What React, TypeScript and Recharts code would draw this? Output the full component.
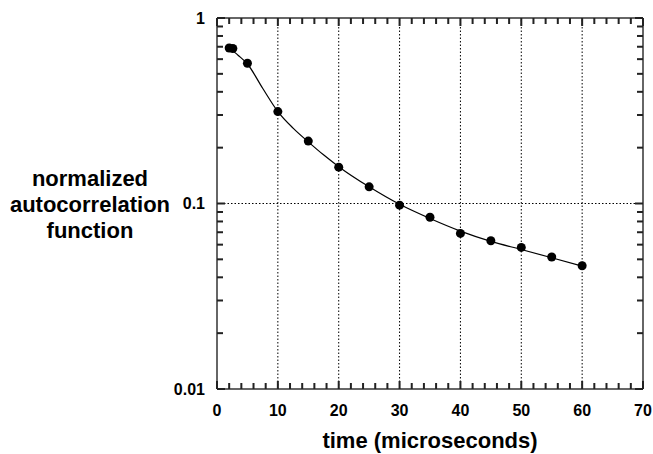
import { ComposedChart, Line, Scatter, XAxis, YAxis, ReferenceLine } from "recharts";

// measured points (time in microseconds, normalized autocorrelation)
const pointTimes = [2, 2.6, 5, 10, 15, 20, 25, 30, 35, 40, 45, 50, 55, 60];
const pointValues = [0.689, 0.685, 0.57, 0.313, 0.217, 0.157, 0.123, 0.098, 0.0843, 0.069, 0.063, 0.058, 0.0515, 0.0462];

// fitted curve
const fitTimes = [2, 3.5, 5, 7.5, 10, 12.5, 15, 17.5, 20, 25, 30, 35, 40, 45, 50, 55, 60];
const fitValues = [0.69, 0.628, 0.565, 0.418, 0.313, 0.255, 0.215, 0.183, 0.158, 0.123, 0.099, 0.083, 0.071, 0.0625, 0.0565, 0.051, 0.046];

const xTicks = [0, 2, 4, 6, 8, 10, 12, 14, 16, 18, 20, 22, 24, 26, 28, 30, 32, 34, 36, 38, 40, 42, 44, 46, 48, 50, 52, 54, 56, 58, 60, 62, 64, 66, 68, 70];
const xLabels = [0, 10, 20, 30, 40, 50, 60, 70];
const yTicks = [0.01, 0.02, 0.03, 0.04, 0.05, 0.06, 0.07, 0.08, 0.09, 0.1, 0.2, 0.3, 0.4, 0.5, 0.6, 0.7, 0.8, 0.9, 1];
const yLabels = [0.01, 0.1, 1];
const gridX = [10, 20, 30, 40, 50, 60];

const points = pointTimes.map((t, i) => ({ t, v: pointValues[i] }));
const fit = fitTimes.map((t, i) => ({ t, v: fitValues[i] }));

const FONT = "'Liberation Sans', Arial, sans-serif";
const FRAME = "#333";
const TICK = "#222";
const TW = 2;

const BottomTick = (props: any) => {
  const { x, y, payload } = props;
  const major = xLabels.includes(payload.value);
  const len = major ? 8 : 6;
  return (
    <g>
      <rect x={x - TW / 2} y={y - len} width={TW} height={len} fill={TICK} />
      {major && (
        <text x={x} y={y + 21} dy="0.35em" textAnchor="middle" fontFamily={FONT} fontWeight="bold" fontSize={16} fill="#000">
          {payload.value}
        </text>
      )}
    </g>
  );
};

const TopTick = (props: any) => {
  const { x, y, payload } = props;
  const len = xLabels.includes(payload.value) ? 8 : 6;
  return (
    <g>
      <rect x={x - TW / 2} y={y} width={TW} height={len} fill={TICK} />
    </g>
  );
};

const LeftTick = (props: any) => {
  const { x, y, payload } = props;
  const major = yLabels.includes(payload.value);
  const len = major ? 8 : 6;
  return (
    <g>
      <rect x={x} y={y - TW / 2} width={len} height={TW} fill={TICK} />
      {major && (
        <text x={x - 12} y={y} dy="0.35em" textAnchor="end" fontFamily={FONT} fontWeight="bold" fontSize={16} fill="#000">
          {String(payload.value)}
        </text>
      )}
    </g>
  );
};

const RightTick = (props: any) => {
  const { x, y, payload } = props;
  const len = yLabels.includes(payload.value) ? 8 : 6;
  return (
    <g>
      <rect x={x - len} y={y - TW / 2} width={len} height={TW} fill={TICK} />
    </g>
  );
};

const YTitle = () => {
  const cx = 90;
  return (
    <text x={cx} y={186} textAnchor="middle" fontFamily={FONT} fontWeight="bold" fontSize={22} fill="#000">
      <tspan x={cx} y={186}>normalized</tspan>
      <tspan x={cx} dy={26}>autocorrelation</tspan>
      <tspan x={cx} dy={26}>function</tspan>
    </text>
  );
};

const XTitle = (props: any) => {
  const vb = props.viewBox || { x: 0, width: 0 };
  return (
    <text x={vb.x + vb.width / 2} y={448} textAnchor="middle" fontFamily={FONT} fontWeight="bold" fontSize={22} fill="#000">
      time (microseconds)
    </text>
  );
};

export default function App() {
  return (
    <div style={{ position: "absolute", left: 0, top: 0, width: 653, height: 454, background: "#fff" }}>
      <ComposedChart width={653} height={454} margin={{ top: 0, right: 0, bottom: 0, left: 0 }}>
        <XAxis
          xAxisId="b"
          dataKey="t"
          type="number"
          domain={[0, 70]}
          ticks={xTicks}
          interval={0}
          height={65}
          tickSize={0}
          tickMargin={0}
          tickLine={false}
          tick={<BottomTick />}
          axisLine={{ stroke: FRAME, strokeWidth: 1.5 }}
          allowDataOverflow
          label={<XTitle />}
        />
        <XAxis
          xAxisId="t"
          orientation="top"
          dataKey="t"
          type="number"
          domain={[0, 70]}
          ticks={xTicks}
          interval={0}
          height={18}
          tickSize={0}
          tickMargin={0}
          tickLine={false}
          tick={<TopTick />}
          axisLine={{ stroke: FRAME, strokeWidth: 1.5 }}
          allowDataOverflow
        />
        <YAxis
          yAxisId="l"
          dataKey="v"
          type="number"
          scale="log"
          domain={[0.01, 1]}
          ticks={yTicks}
          interval={0}
          width={217}
          tickSize={0}
          tickMargin={0}
          tickLine={false}
          tick={<LeftTick />}
          axisLine={{ stroke: FRAME, strokeWidth: 1.5 }}
          allowDataOverflow
          label={<YTitle />}
        />
        <YAxis
          yAxisId="r"
          orientation="right"
          dataKey="v"
          type="number"
          scale="log"
          domain={[0.01, 1]}
          ticks={yTicks}
          interval={0}
          width={10}
          tickSize={0}
          tickMargin={0}
          tickLine={false}
          tick={<RightTick />}
          axisLine={{ stroke: FRAME, strokeWidth: 1.5 }}
          allowDataOverflow
        />
        {gridX.map((g) => (
          <ReferenceLine key={g} xAxisId="b" yAxisId="l" x={g} stroke="#000" strokeWidth={1} strokeDasharray="1.5 2" />
        ))}
        <ReferenceLine xAxisId="b" yAxisId="l" y={0.1} stroke="#000" strokeWidth={1} strokeDasharray="1.5 2" />
        <Line
          xAxisId="t"
          yAxisId="r"
          data={fit}
          dataKey="v"
          type="monotone"
          stroke="#000"
          strokeWidth={1.2}
          dot={false}
          isAnimationActive={false}
        />
        <Scatter
          xAxisId="b"
          yAxisId="l"
          data={points}
          dataKey="v"
          fill="#000"
          shape={(p: any) => <circle cx={p.cx} cy={p.cy} r={4.5} fill="#000" />}
          isAnimationActive={false}
        />
      </ComposedChart>
    </div>
  );
}
